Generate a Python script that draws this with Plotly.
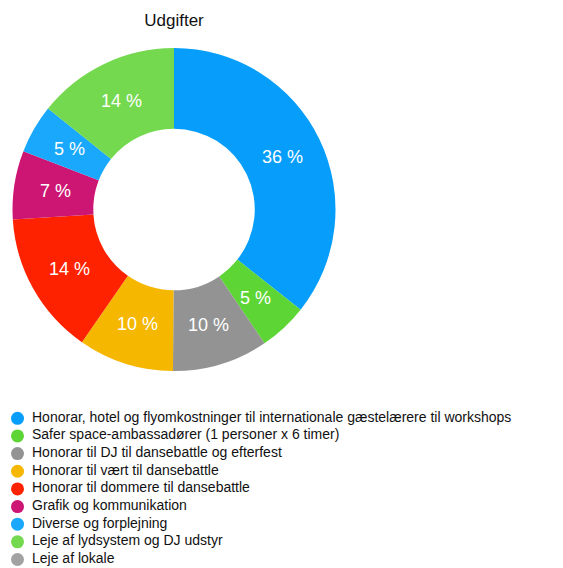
import math
import plotly.graph_objects as go

title = "Udgifter"
categories = [
    "Honorar, hotel og flyomkostninger til internationale gæstelærere til workshops",
    "Safer space-ambassadører (1 personer x 6 timer)",
    "Honorar til DJ til dansebattle og efterfest",
    "Honorar til vært til dansebattle",
    "Honorar til dommere til dansebattle",
    "Grafik og kommunikation",
    "Diverse og forplejning",
    "Leje af lydsystem og DJ udstyr",
    "Leje af lokale",
]
values = [35.8, 4.9, 9.6, 9.6, 14.4, 6.9, 4.9, 14.3, 0]
colors = ["#069EFA", "#5DD535", "#939393", "#F5B700", "#FE2200",
          "#CD1574", "#19A8FB", "#74D94F", "#A2A2A2"]

# page body has an 8px margin; figure is sized to fit the window
OFF = 8
W, H = 563 - OFF, 568 - OFF
FONT = "Liberation Sans, Arial, Helvetica, sans-serif"

total = sum(values)
labels_text = [f"{round(v / total * 100)} %" if v > 0 else "" for v in values]

# pie geometry (page pixels -> figure pixels)
cx, cy, R = 174 - OFF, 209.5 - OFF, 161.5
dom = dict(x=[(cx - R) / W, (cx + R) / W], y=[(H - cy - R) / H, (H - cy + R) / H])
LABEL_R = 0.745  # fraction of outer radius where slice labels sit

fig = go.Figure()
fig.add_trace(go.Pie(
    labels=categories,
    values=values,
    textinfo="none",
    marker=dict(colors=colors, line=dict(width=0)),
    hole=0.5,
    sort=False,
    direction="clockwise",
    rotation=0,
    showlegend=False,
    domain=dom,
    hoverinfo="label+percent",
))

# percentage labels at the middle of each slice, derived from the values
annotations = []
acc = 0.0
for v, t in zip(values, labels_text):
    ang = math.radians((acc + v / 2) / total * 360)
    acc += v
    if not t:
        continue
    px = cx + LABEL_R * R * math.sin(ang)
    py = cy - LABEL_R * R * math.cos(ang)
    annotations.append(dict(
        text=t, x=px / W, y=1 - py / H, xref="paper", yref="paper",
        xanchor="center", yanchor="middle", showarrow=False,
        font=dict(family=FONT, size=18, color="white"),
    ))

# legend drawn as scatter on hidden axes (rows indexed 0..n-1)
rows = list(range(len(categories)))
row0_px, row_step = 418.3 - OFF, 17.65
marker_x, text_x = 17.5 - OFF, 32 - OFF
fig.add_trace(go.Scatter(
    x=[marker_x] * len(rows), y=rows, mode="markers",
    marker=dict(color=colors, size=13, line=dict(width=0)),
    showlegend=False, hoverinfo="skip",
))
fig.add_trace(go.Scatter(
    x=[text_x] * len(rows), y=rows, mode="text",
    text=categories, textposition="middle right",
    textfont=dict(family=FONT, size=14, color="#111111"),
    showlegend=False, hoverinfo="skip",
))

y_top = (0 - row0_px) / row_step
y_bot = (H - row0_px) / row_step
fig.update_layout(
    width=W, height=H,
    margin=dict(l=0, r=0, t=0, b=0),
    paper_bgcolor="white", plot_bgcolor="white",
    title=dict(text=title, x=cx / W, xanchor="center", xref="paper",
               y=1 - (20 - OFF) / H, yanchor="middle", yref="container",
               font=dict(family=FONT, size=17, color="#111111")),
    xaxis=dict(range=[0, W], domain=[0, 1], visible=False, fixedrange=True),
    yaxis=dict(range=[y_bot, y_top], domain=[0, 1], visible=False, fixedrange=True),
    annotations=annotations,
    font=dict(family=FONT),
)

fig.write_html("out.html")
